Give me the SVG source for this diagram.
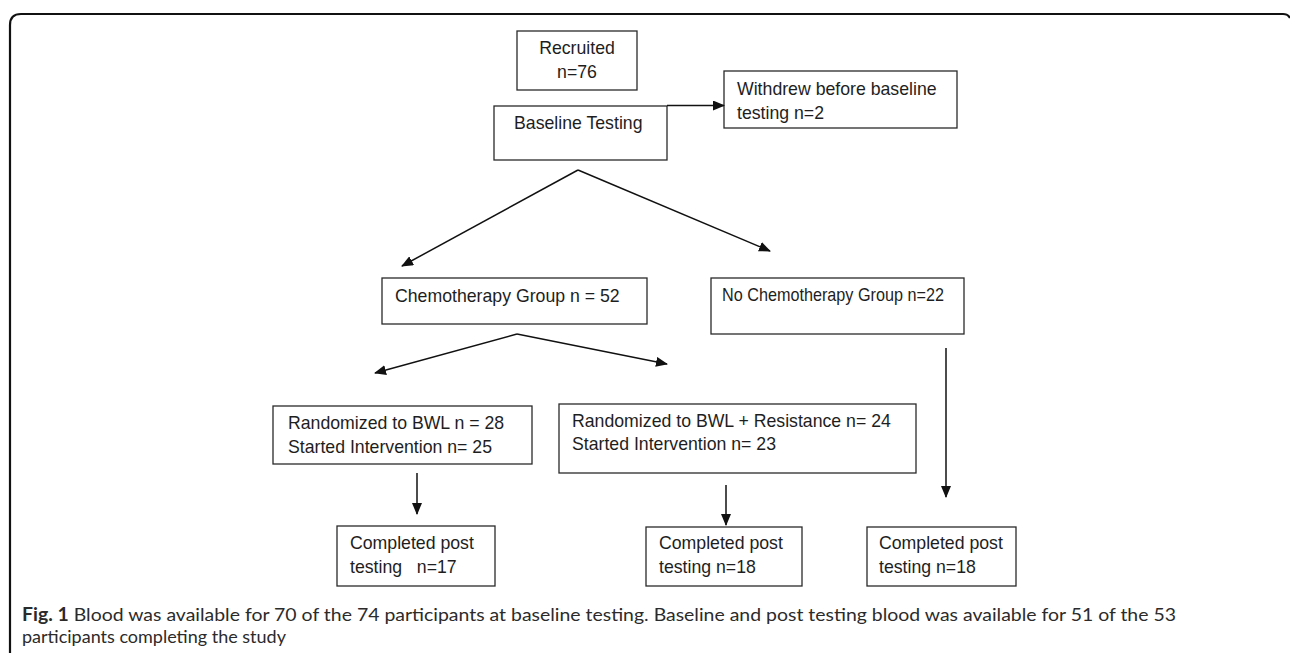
<svg xmlns="http://www.w3.org/2000/svg" width="1290" height="653" viewBox="0 0 1290 653">
<style>
.box{fill:#fff;stroke:#2a2a2a;stroke-width:1.3}
.t{font-family:"Liberation Sans",Arial,sans-serif;font-size:17.7px;fill:#1e1e1e}
.c{stroke:#111;stroke-width:1.5;fill:none}
.cap{font-family:Lato,"Open Sans",sans-serif;font-size:18px;fill:#2b2b2b}
</style>
<defs>
<marker id="ah" markerWidth="12" markerHeight="10" refX="11" refY="5" orient="auto" markerUnits="userSpaceOnUse">
<path d="M0,0 L12,5 L0,10 z" fill="#111"/>
</marker>
</defs>
<path d="M10,653 V25 Q10,14 21,14 H1283 Q1288,14 1290,18" fill="none" stroke="#111" stroke-width="2.2"/>
<g id="recruited"><rect class="box" x="517" y="31" width="120" height="59"/><text class="t" x="577" y="54" text-anchor="middle">Recruited</text><text class="t" x="577" y="78" text-anchor="middle">n=76</text></g>
<g id="baseline"><rect class="box" x="494" y="106" width="173" height="54"/><text class="t" x="514" y="129">Baseline Testing</text></g>
<g id="withdrew"><rect class="box" x="724" y="71" width="233" height="57"/><text class="t" x="737" y="95">Withdrew before baseline</text><text class="t" x="737" y="119">testing n=2</text></g>
<g id="chemo"><rect class="box" x="382" y="278" width="265" height="46"/><text class="t" x="395" y="302">Chemotherapy Group n = 52</text></g>
<g id="nochemo"><rect class="box" x="711" y="278" width="253" height="56"/><text class="t" x="722" y="301" textLength="222" lengthAdjust="spacingAndGlyphs">No Chemotherapy Group n=22</text></g>
<g id="bwl"><rect class="box" x="273" y="406" width="259" height="58"/><text class="t" x="288" y="429">Randomized to BWL n = 28</text><text class="t" x="288" y="453">Started Intervention n= 25</text></g>
<g id="bwlr"><rect class="box" x="559" y="404" width="357" height="69"/><text class="t" x="572" y="427">Randomized to BWL + Resistance n= 24</text><text class="t" x="572" y="450">Started Intervention n= 23</text></g>
<g id="done1"><rect class="box" x="337" y="526" width="158" height="60"/><text class="t" x="350" y="549">Completed post</text><text class="t" x="350" y="573" xml:space="preserve">testing   n=17</text></g>
<g id="done2"><rect class="box" x="646" y="527" width="156" height="59"/><text class="t" x="659" y="549">Completed post</text><text class="t" x="659" y="573">testing n=18</text></g>
<g id="done3"><rect class="box" x="867" y="527" width="149" height="59"/><text class="t" x="879" y="549">Completed post</text><text class="t" x="879" y="573">testing n=18</text></g>
<g id="connectors">
<line class="c" x1="667" y1="105.5" x2="724" y2="105.5" marker-end="url(#ah)"/>
<line class="c" x1="578" y1="170" x2="402" y2="266" marker-end="url(#ah)"/>
<line class="c" x1="578" y1="170" x2="770" y2="251" marker-end="url(#ah)"/>
<line class="c" x1="517" y1="334" x2="375" y2="373" marker-end="url(#ah)"/>
<line class="c" x1="517" y1="334" x2="667" y2="364" marker-end="url(#ah)"/>
<line class="c" x1="417" y1="473" x2="417" y2="514" marker-end="url(#ah)"/>
<line class="c" x1="726" y1="485" x2="726" y2="525" marker-end="url(#ah)"/>
<line class="c" x1="946" y1="348" x2="946" y2="497" marker-end="url(#ah)"/>
</g>
<text class="cap" x="22" y="621" textLength="1154" lengthAdjust="spacingAndGlyphs"><tspan font-weight="bold">Fig. 1</tspan> Blood was available for 70 of the 74 participants at baseline testing. Baseline and post testing blood was available for 51 of the 53</text>
<text class="cap" x="22" y="643">participants completing the study</text>
</svg>
